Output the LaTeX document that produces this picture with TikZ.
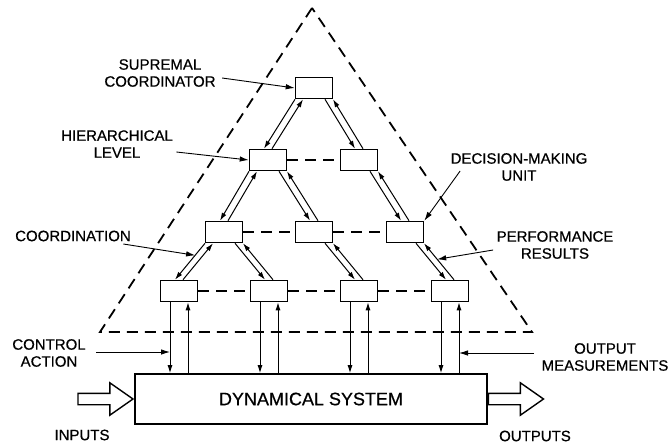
\documentclass[tikz,border=0pt]{standalone}
\usepackage{fontspec}
\setmainfont[FakeBold=0.6,AutoFakeBold=0.6]{Liberation Sans}
\usepackage{tikz}
\usetikzlibrary{arrows.meta,shapes.arrows}

\tikzset{
    unit/.style={draw, line width=1.6pt, minimum width=37pt, minimum height=21pt, inner sep=0pt},
    tag/.style={align=center, font=\fontsize{15}{17}\selectfont},
    link/.style={line width=1pt, -{Latex[length=8pt,width=5pt]}},
    pointer/.style={line width=0.9pt, -{Latex[length=9pt,width=5.5pt]}},
    layer/.style={line width=1.8pt, dash pattern=on 11pt off 7pt},
    bigarrow/.style={draw, single arrow, line width=1.4pt, inner xsep=0pt, inner ysep=5pt,
        minimum height=55pt, single arrow head extend=10.5pt, single arrow tip angle=70}
}

\begin{document}
\begin{tikzpicture}[x=1pt, y=-1pt]
        \fill[white] (0,0) rectangle (669,444);
        \useasboundingbox (0,0) rectangle (669,444);

        \draw[layer] (312,8) -- (100,332) -- (532,332) -- cycle;

        \node[unit] (u1) at (314,88) {};
        \node[unit] (u21) at (268,160) {};
        \node[unit] (u22) at (359,160) {};
        \node[unit] (u31) at (224,232) {};
        \node[unit] (u32) at (314,232) {};
        \node[unit] (u33) at (405,232) {};
        \node[unit] (u41) at (179,291) {};
        \node[unit] (u42) at (269,291) {};
        \node[unit] (u43) at (359,291) {};
        \node[unit] (u44) at (450,291) {};

        \node[draw, line width=1.6pt, minimum width=352pt, minimum height=50pt,
            font=\fontsize{18}{20}\selectfont] (sys) at (311,399) {DYNAMICAL SYSTEM};

        \draw[layer] (u21.east) -- (u22.west);
        \draw[layer] (u31.east) -- (u32.west);
        \draw[layer] (u32.east) -- (u33.west);
        \draw[layer] (u41.east) -- (u42.west);
        \draw[layer] (u42.east) -- (u43.west);
        \draw[layer] (u43.east) -- (u44.west);

        \draw[link] ([xshift=-19pt]u1.south) -- ([xshift=-4pt]u21.north);
        \draw[link] ([xshift=4pt]u21.north) -- ([xshift=-11pt]u1.south);
        \draw[link] ([xshift=11pt]u1.south) -- ([xshift=-4pt]u22.north);
        \draw[link] ([xshift=4pt]u22.north) -- ([xshift=19pt]u1.south);

        \draw[link] ([xshift=-19pt]u21.south) -- ([xshift=-4pt]u31.north);
        \draw[link] ([xshift=4pt]u31.north) -- ([xshift=-11pt]u21.south);
        \draw[link] ([xshift=11pt]u21.south) -- ([xshift=-4pt]u32.north);
        \draw[link] ([xshift=4pt]u32.north) -- ([xshift=19pt]u21.south);
        \draw[link] ([xshift=11pt]u22.south) -- ([xshift=-4pt]u33.north);
        \draw[link] ([xshift=4pt]u33.north) -- ([xshift=19pt]u22.south);

        \draw[link] ([xshift=-19pt]u31.south) -- coordinate[pos=0.33] (cpoint) ([xshift=-4pt]u41.north);
        \draw[link] ([xshift=4pt]u41.north) -- ([xshift=-11pt]u31.south);
        \draw[link] ([xshift=11pt]u31.south) -- ([xshift=-4pt]u42.north);
        \draw[link] ([xshift=4pt]u42.north) -- ([xshift=19pt]u31.south);
        \draw[link] ([xshift=11pt]u32.south) -- ([xshift=-4pt]u43.north);
        \draw[link] ([xshift=4pt]u43.north) -- ([xshift=19pt]u32.south);
        \draw[link] ([xshift=11pt]u33.south) -- ([xshift=-4pt]u44.north);
        \draw[link] ([xshift=4pt]u44.north) -- coordinate[pos=0.56] (ppoint) ([xshift=19pt]u33.south);

        \draw[link] ([xshift=-9pt]u41.south) -- ([xshift=-9pt]u41.south |- sys.north) coordinate (cdown);
        \draw[link] ([xshift=9pt]u41.south |- sys.north) -- ([xshift=9pt]u41.south);
        \draw[link] ([xshift=-9pt]u42.south) -- ([xshift=-9pt]u42.south |- sys.north);
        \draw[link] ([xshift=9pt]u42.south |- sys.north) -- ([xshift=9pt]u42.south);
        \draw[link] ([xshift=-9pt]u43.south) -- ([xshift=-9pt]u43.south |- sys.north);
        \draw[link] ([xshift=9pt]u43.south |- sys.north) -- ([xshift=9pt]u43.south);
        \draw[link] ([xshift=-9pt]u44.south) -- ([xshift=-9pt]u44.south |- sys.north);
        \draw[link] ([xshift=9pt]u44.south |- sys.north) -- ([xshift=9pt]u44.south) coordinate (mup);

        \node[bigarrow, anchor=tip] (inarrow) at (sys.west) {};
        \node[bigarrow, anchor=tail] (outarrow) at (sys.east) {};

        \node[tag] (sup) at (160,73) {SUPREMAL\\COORDINATOR};
        \node[tag] (hier) at (117,144) {HIERARCHICAL\\LEVEL};
        \node[tag] (dec) at (519,167) {DECISION-MAKING\\UNIT};
        \node[tag] (coord) at (73,236) {COORDINATION};
        \node[tag] (perf) at (555,245) {PERFORMANCE\\RESULTS};
        \node[tag] (ctrl) at (49,353) {CONTROL\\ACTION};
        \node[tag] (meas) at (605,357) {OUTPUT\\MEASUREMENTS};
        \node[tag] (inputs) at (82,435) {INPUTS};
        \node[tag] (outputs) at (535,436) {OUTPUTS};

        \draw[pointer] ([xshift=3pt,yshift=-5pt]sup.east) -- (u1.west);
        \draw[pointer] ([yshift=-8pt]hier.east) -- (u21.west);
        \draw[pointer] ([xshift=13pt,yshift=-4pt]dec.west) -- (u33.north east);
        \draw[pointer] ([xshift=-11pt,yshift=-8pt]coord.east) -- (cpoint);
        \draw[pointer] ([yshift=-5pt]perf.west) -- (ppoint);
        \draw[pointer] ([xshift=7pt,yshift=1pt]ctrl.east) -- ([yshift=1pt]ctrl.east -| cdown);
        \draw[pointer] ([xshift=-4pt,yshift=4pt]meas.west) -- ([yshift=4pt]meas.west -| mup);
    \end{tikzpicture}
\end{document}
